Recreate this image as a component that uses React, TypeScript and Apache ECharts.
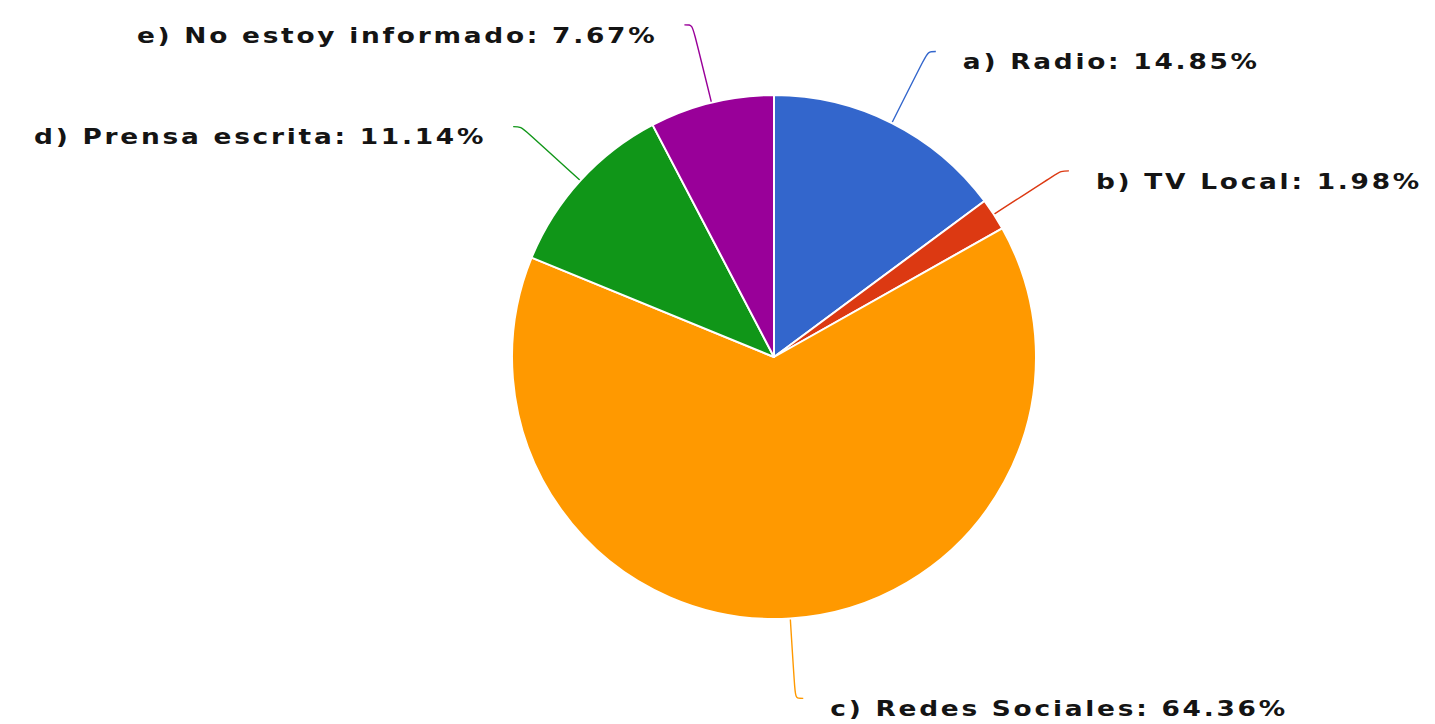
import React, { useEffect, useRef } from "react";
import * as echarts from "echarts";

const categories = [
  "a) Radio",
  "b) TV Local",
  "c) Redes Sociales",
  "d) Prensa escrita",
  "e) No estoy informado",
];
const values = [14.85, 1.98, 64.36, 11.14, 7.67];
const colors = ["#3366cc", "#dc3912", "#ff9900", "#109618", "#990099"];

const STRETCH = 1.2;

export default function App() {
  const ref = useRef<HTMLDivElement>(null);
  useEffect(() => {
    if (!ref.current) return;
    const chart = echarts.init(ref.current, null, { renderer: "svg" });
    chart.setOption({
      animation: false,
      backgroundColor: "#ffffff",
      series: [
        {
          type: "pie",
          center: [774, 357],
          radius: 262,
          startAngle: 90,
          clockwise: true,
          avoidLabelOverlap: false,
          data: categories.map((name, i) => ({
            name,
            value: values[i],
            itemStyle: { color: colors[i] },
            labelLine: { lineStyle: { color: colors[i] } },
          })),
          itemStyle: { borderColor: "#ffffff", borderWidth: 2 },
          label: {
            show: true,
            position: "outside",
            formatter: (p: any) => `${p.name}: ${values[p.dataIndex].toFixed(2)}%`,
            fontFamily: "DejaVu Sans",
            fontWeight: "bold",
            fontSize: 22,
            lineHeight: 22,
            color: "#141414",
            distanceToLabelLine: 27,
          },
          labelLine: {
            show: true,
            length: 80,
            length2: 8,
            smooth: 0.35,
            lineStyle: { width: 1.4 },
          },
          labelLayout: (p: any) => ({
            dy: 10,
            labelLinePoints: p.labelLinePoints,
          }),
        },
      ],
    });
    const texts = ref.current.querySelectorAll("text");
    texts.forEach((node) => {
      const t = node as SVGTextElement;
      const tr = t.getAttribute("transform") || "";
      const x = parseFloat(t.getAttribute("x") || "0");
      t.setAttribute("transform", `${tr} scale(${STRETCH},1)`);
      if (x) t.setAttribute("x", String(x / STRETCH));
      t.style.letterSpacing = "2.3px";
    });
    return () => chart.dispose();
  }, []);
  return (
    <div
      ref={ref}
      style={{ position: "fixed", left: 0, top: 0, width: 1435, height: 724 }}
    />
  );
}
